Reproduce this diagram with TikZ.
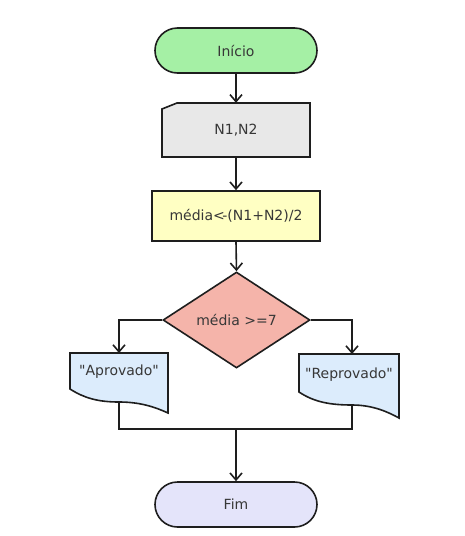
\documentclass[tikz,border=0pt]{standalone}
\usepackage{fontspec}
\setmainfont{DejaVu Sans}
\usetikzlibrary{shapes.geometric,shapes.misc,arrows.meta}
\definecolor{cgreen}{RGB}{165,240,165}
\definecolor{cgray}{RGB}{232,232,232}
\definecolor{cyellow}{RGB}{255,255,195}
\definecolor{csalmon}{RGB}{245,180,170}
\definecolor{cblue}{RGB}{220,236,252}
\definecolor{clav}{RGB}{228,228,250}
\definecolor{cline}{RGB}{30,30,30}
\definecolor{ctext}{RGB}{55,55,55}
\tikzset{
  x=1pt, y=-1pt,
  base/.style={font=\fontsize{14}{16}\selectfont, text=ctext, inner sep=0pt},
  border/.style={draw=cline, line width=1.6pt},
  term/.style={base, border, rounded rectangle, minimum width=162pt, minimum height=45pt},
  procbox/.style={base, border, rectangle, minimum width=168pt, minimum height=50pt, fill=cyellow},
  decbox/.style={base, border, diamond, aspect=1.53, minimum width=147pt, minimum height=96pt, fill=csalmon},
  plain/.style={base},
  conn/.style={draw=cline, line width=1.6pt},
  arr/.style={conn, -{Straight Barb[length=7pt,width=12pt,line width=1.6pt]}},
}
\begin{document}
\begin{tikzpicture}
\useasboundingbox[fill=white] (0,0) rectangle (465,536);

% terminators
\node[term, fill=cgreen] (start) at (236,50.5) {Início};
\node[term, fill=clav] (fim) at (236,504.5) {Fim};

% manual input
\draw[border, fill=cgray] (162,157) -- (162,109) -- (177,103) -- (310,103) -- (310,157) -- cycle;
\node[plain, minimum width=148pt, minimum height=54pt] (inp) at (236,130) {N1,N2};

% process
\node[procbox] (proc) at (236,216) {média<\kern-2.5pt-(N1+N2)/2};

% decision
\node[decbox] (dec) at (236.5,320) {média >=7};

% documents
\draw[border, fill=cblue] (70,389) -- (70,353) -- (168,353) -- (168,413)
  .. controls (155,407) and (140,402) .. (119,402)
  .. controls (98,402) and (84,398) .. (70,389) -- cycle;
\node[plain] (apr) at (119,372) {\textquotedbl Aprovado\textquotedbl};
\coordinate (aprT) at (119,353);
\coordinate (aprB) at (119,402);

\draw[border, fill=cblue] (299,392) -- (299,354) -- (399,354) -- (399,418)
  .. controls (388,412) and (373,405) .. (352,405)
  .. controls (330,405) and (314,402) .. (299,392) -- cycle;
\node[plain] (rep) at (349,375) {\textquotedbl Reprovado\textquotedbl};
\coordinate (repT) at (352,354);
\coordinate (repB) at (352,405);

\coordinate (join) at (236,429);

% connectors
\draw[arr] (start.south) -- (inp.north);
\draw[arr] (inp.south) -- (proc.north);
\draw[arr] (proc.south) -- (dec.north);
\draw[arr] (dec.west) -| (aprT);
\draw[arr] (dec.east) -| (repT);
\draw[conn] (aprB) |- (join) -| (repB);
\draw[arr] (join) -- (fim.north);
\end{tikzpicture}
\end{document}
